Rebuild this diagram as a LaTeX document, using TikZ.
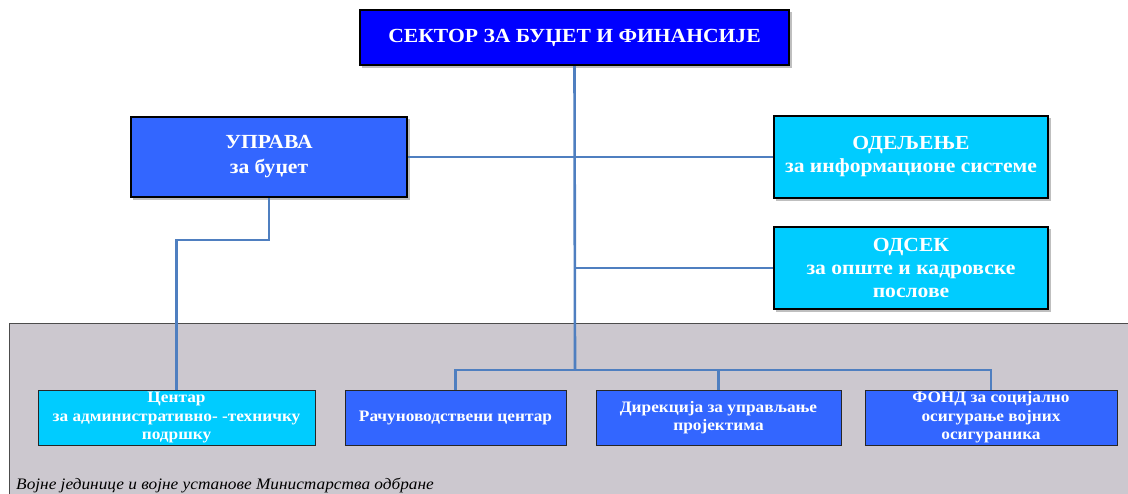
\documentclass[tikz,border=0pt]{standalone}
\usepackage{fontspec}
\setmainfont[FakeStretch=1.08]{Liberation Serif}
\definecolor{topblue}{HTML}{0000FF}
\definecolor{midblue}{HTML}{3366FF}
\definecolor{cyanbox}{HTML}{00CCFF}
\definecolor{linkblue}{HTML}{4F7FC0}
\definecolor{areagray}{HTML}{CCC8CF}
\begin{document}
\begin{tikzpicture}[x=1pt,y=-1pt,
  bigbox/.style={draw=black,line width=2pt,text=white,align=center,inner sep=0pt,
    font=\bfseries\fontsize{20}{23}\selectfont},
  smallbox/.style={draw=black!85,line width=1pt,text=white,align=center,inner sep=0pt,
    minimum height=55pt,font=\bfseries\fontsize{16}{18.5}\selectfont},
  link/.style={draw=linkblue,line width=2.6pt}]
\useasboundingbox (0,0) rectangle (1128,493);
% area
\fill[areagray,draw=black!70,line width=1pt] (9,323) rectangle (1140,500);
\node[anchor=base west,inner sep=0pt,font=\itshape\fontsize{16}{18}\selectfont] (cap) at (16,489) {Војне јединице и војне установе Министарства одбране};
% shadows
\fill[black!25] (362,12) rectangle (792,68);
\fill[black!25] (133,119) rectangle (410,200);
\fill[black!25] (776,118) rectangle (1051,201);
\fill[black!25] (776,229) rectangle (1051,312);
% nodes
\node[bigbox,fill=topblue,minimum width=429pt,minimum height=55pt] (top) at (574.5,37.5) {СЕКТОР ЗА БУЏЕТ И ФИНАНСИЈЕ};
\node[bigbox,fill=midblue,minimum width=276pt,minimum height=80pt,font=\bfseries\fontsize{20}{25}\selectfont] (uprava) at (269,157) {УПРАВА\\за буџет};
\node[bigbox,fill=cyanbox,minimum width=274pt,minimum height=82pt] (odelj) at (911,157) {ОДЕЉЕЊЕ\\за информационе системе};
\node[bigbox,fill=cyanbox,minimum width=274pt,minimum height=82pt] (odsek) at (911,268) {ОДСЕК\\за опште и кадровске\\послове};
\node[smallbox,fill=cyanbox,minimum width=277pt] (centar) at (176.5,417.5) {Центар\\за административно- -техничку\\подршку};
\node[smallbox,fill=midblue,minimum width=221pt] (racun) at (455.5,417.5) {Рачуноводствени центар};
\node[smallbox,fill=midblue,minimum width=245pt] (direk) at (718.5,417.5) {Дирекција за управљање\\пројектима};
\node[smallbox,fill=midblue,minimum width=252pt] (fond) at (991,417.5) {ФОНД за социјално\\осигурање војних\\осигураника};
% connector coordinates
\coordinate (bus) at (575,370);
\coordinate (odsekj) at (575,268);
\coordinate (bend) at (269,240);
% connectors
\draw[link] (top.south) -- (bus);
\draw[link] (uprava.east) -- (odelj.west);
\draw[link] (odsekj) -- (odsek.west);
\draw[link] (uprava.south) -- (bend) -- (bend -| centar.north) -- (centar.north);
\draw[link] (racun.north) -- (racun.north |- bus) -- (fond.north |- bus) -- (fond.north);
\draw[link] (direk.north |- bus) -- (direk.north);
\end{tikzpicture}
\end{document}
